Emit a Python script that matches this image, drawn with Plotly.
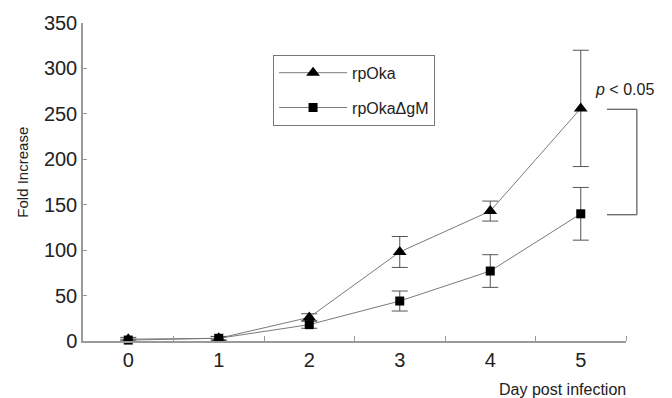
import plotly.graph_objects as go

days = [0, 1, 2, 3, 4, 5]
day_labels = ["0", "1", "2", "3", "4", "5"]

rpoka = [2, 3, 26, 98, 143, 256]
rpoka_err = [2, 2, 4, 17, 11, 64]
rpoka_dgm = [1, 3, 18, 44, 77, 140]
rpoka_dgm_err = [1, 2, 4, 11, 18, 29]

y_ticks = [0, 50, 100, 150, 200, 250, 300, 350]

FONT = "Liberation Sans, Arial, sans-serif"
LINE = "#7a7a7a"
AXIS = "#9a9a9a"

fig = go.Figure()
fig.add_trace(go.Scatter(
    x=days, y=rpoka, name="rpOka", mode="lines+markers",
    line=dict(color=LINE, width=1),
    marker=dict(symbol="triangle-up", size=12, color="black"),
    error_y=dict(type="data", array=rpoka_err, color="#555", thickness=1, width=8),
    legendgroup="a", cliponaxis=False,
))
fig.add_trace(go.Scatter(
    x=days, y=rpoka_dgm, name="rpOka\u0394gM", mode="lines+markers",
    line=dict(color=LINE, width=1),
    marker=dict(symbol="square", size=9, color="black"),
    error_y=dict(type="data", array=rpoka_dgm_err, color="#555", thickness=1, width=8),
    legendgroup="b", cliponaxis=False,
))

# significance bracket
fig.add_shape(type="line", xref="paper", yref="y", x0=0.965, x1=1.02, y0=255, y1=255,
              line=dict(color="#666", width=1.3))
fig.add_shape(type="line", xref="paper", yref="y", x0=1.02, x1=1.02, y0=255, y1=139,
              line=dict(color="#666", width=1.3))
fig.add_shape(type="line", xref="paper", yref="y", x0=0.965, x1=1.02, y0=139, y1=139,
              line=dict(color="#666", width=1.3))
fig.add_annotation(xref="paper", yref="y", x=0.94, y=277, xanchor="left", text="<i>p</i> < 0.05",
                   showarrow=False, font=dict(family=FONT, size=16, color="#222"))

# axis titles
fig.add_annotation(xref="paper", yref="paper", x=-0.112, y=0.53, xanchor="center",
                   text="Fold Increase", textangle=-90, showarrow=False,
                   font=dict(family=FONT, size=15, color="#222"))
fig.add_annotation(xref="paper", yref="paper", x=1.004, y=-0.185, xanchor="right",
                   text="Day post infection", showarrow=False,
                   font=dict(family=FONT, size=16, color="#222"))

fig.update_layout(
    width=672, height=398,
    margin=dict(l=83, r=46, t=16, b=57),
    paper_bgcolor="white", plot_bgcolor="white",
    font=dict(family=FONT, color="#222"),
    showlegend=True,
    legend=dict(x=0.35, y=0.9, xanchor="left", yanchor="top",
                bordercolor="#777", borderwidth=1, bgcolor="white",
                font=dict(family=FONT, size=16, color="#222"),
                tracegroupgap=11, itemwidth=68),
    xaxis=dict(range=[-0.5, 5.5], tickmode="array", tickvals=days, ticktext=day_labels,
               ticks="", showline=True, linecolor=AXIS, linewidth=1.5,
               showgrid=False, zeroline=False, tickfont=dict(size=20, color="#222"),
               minor=dict(tickvals=[d + 0.5 for d in days], ticks="inside", ticklen=5,
                          tickcolor=AXIS, tickwidth=1.2)),
    yaxis=dict(range=[0, 350], tickmode="array", tickvals=y_ticks,
               ticks="inside", ticklen=4, tickcolor=AXIS, showline=True, linecolor=AXIS,
               linewidth=1.5, showgrid=False, zeroline=False,
               tickfont=dict(size=20, color="#222")),
)

fig.write_html("out.html", config={"displayModeBar": False},
               post_script="document.body.style.margin='0px';")
